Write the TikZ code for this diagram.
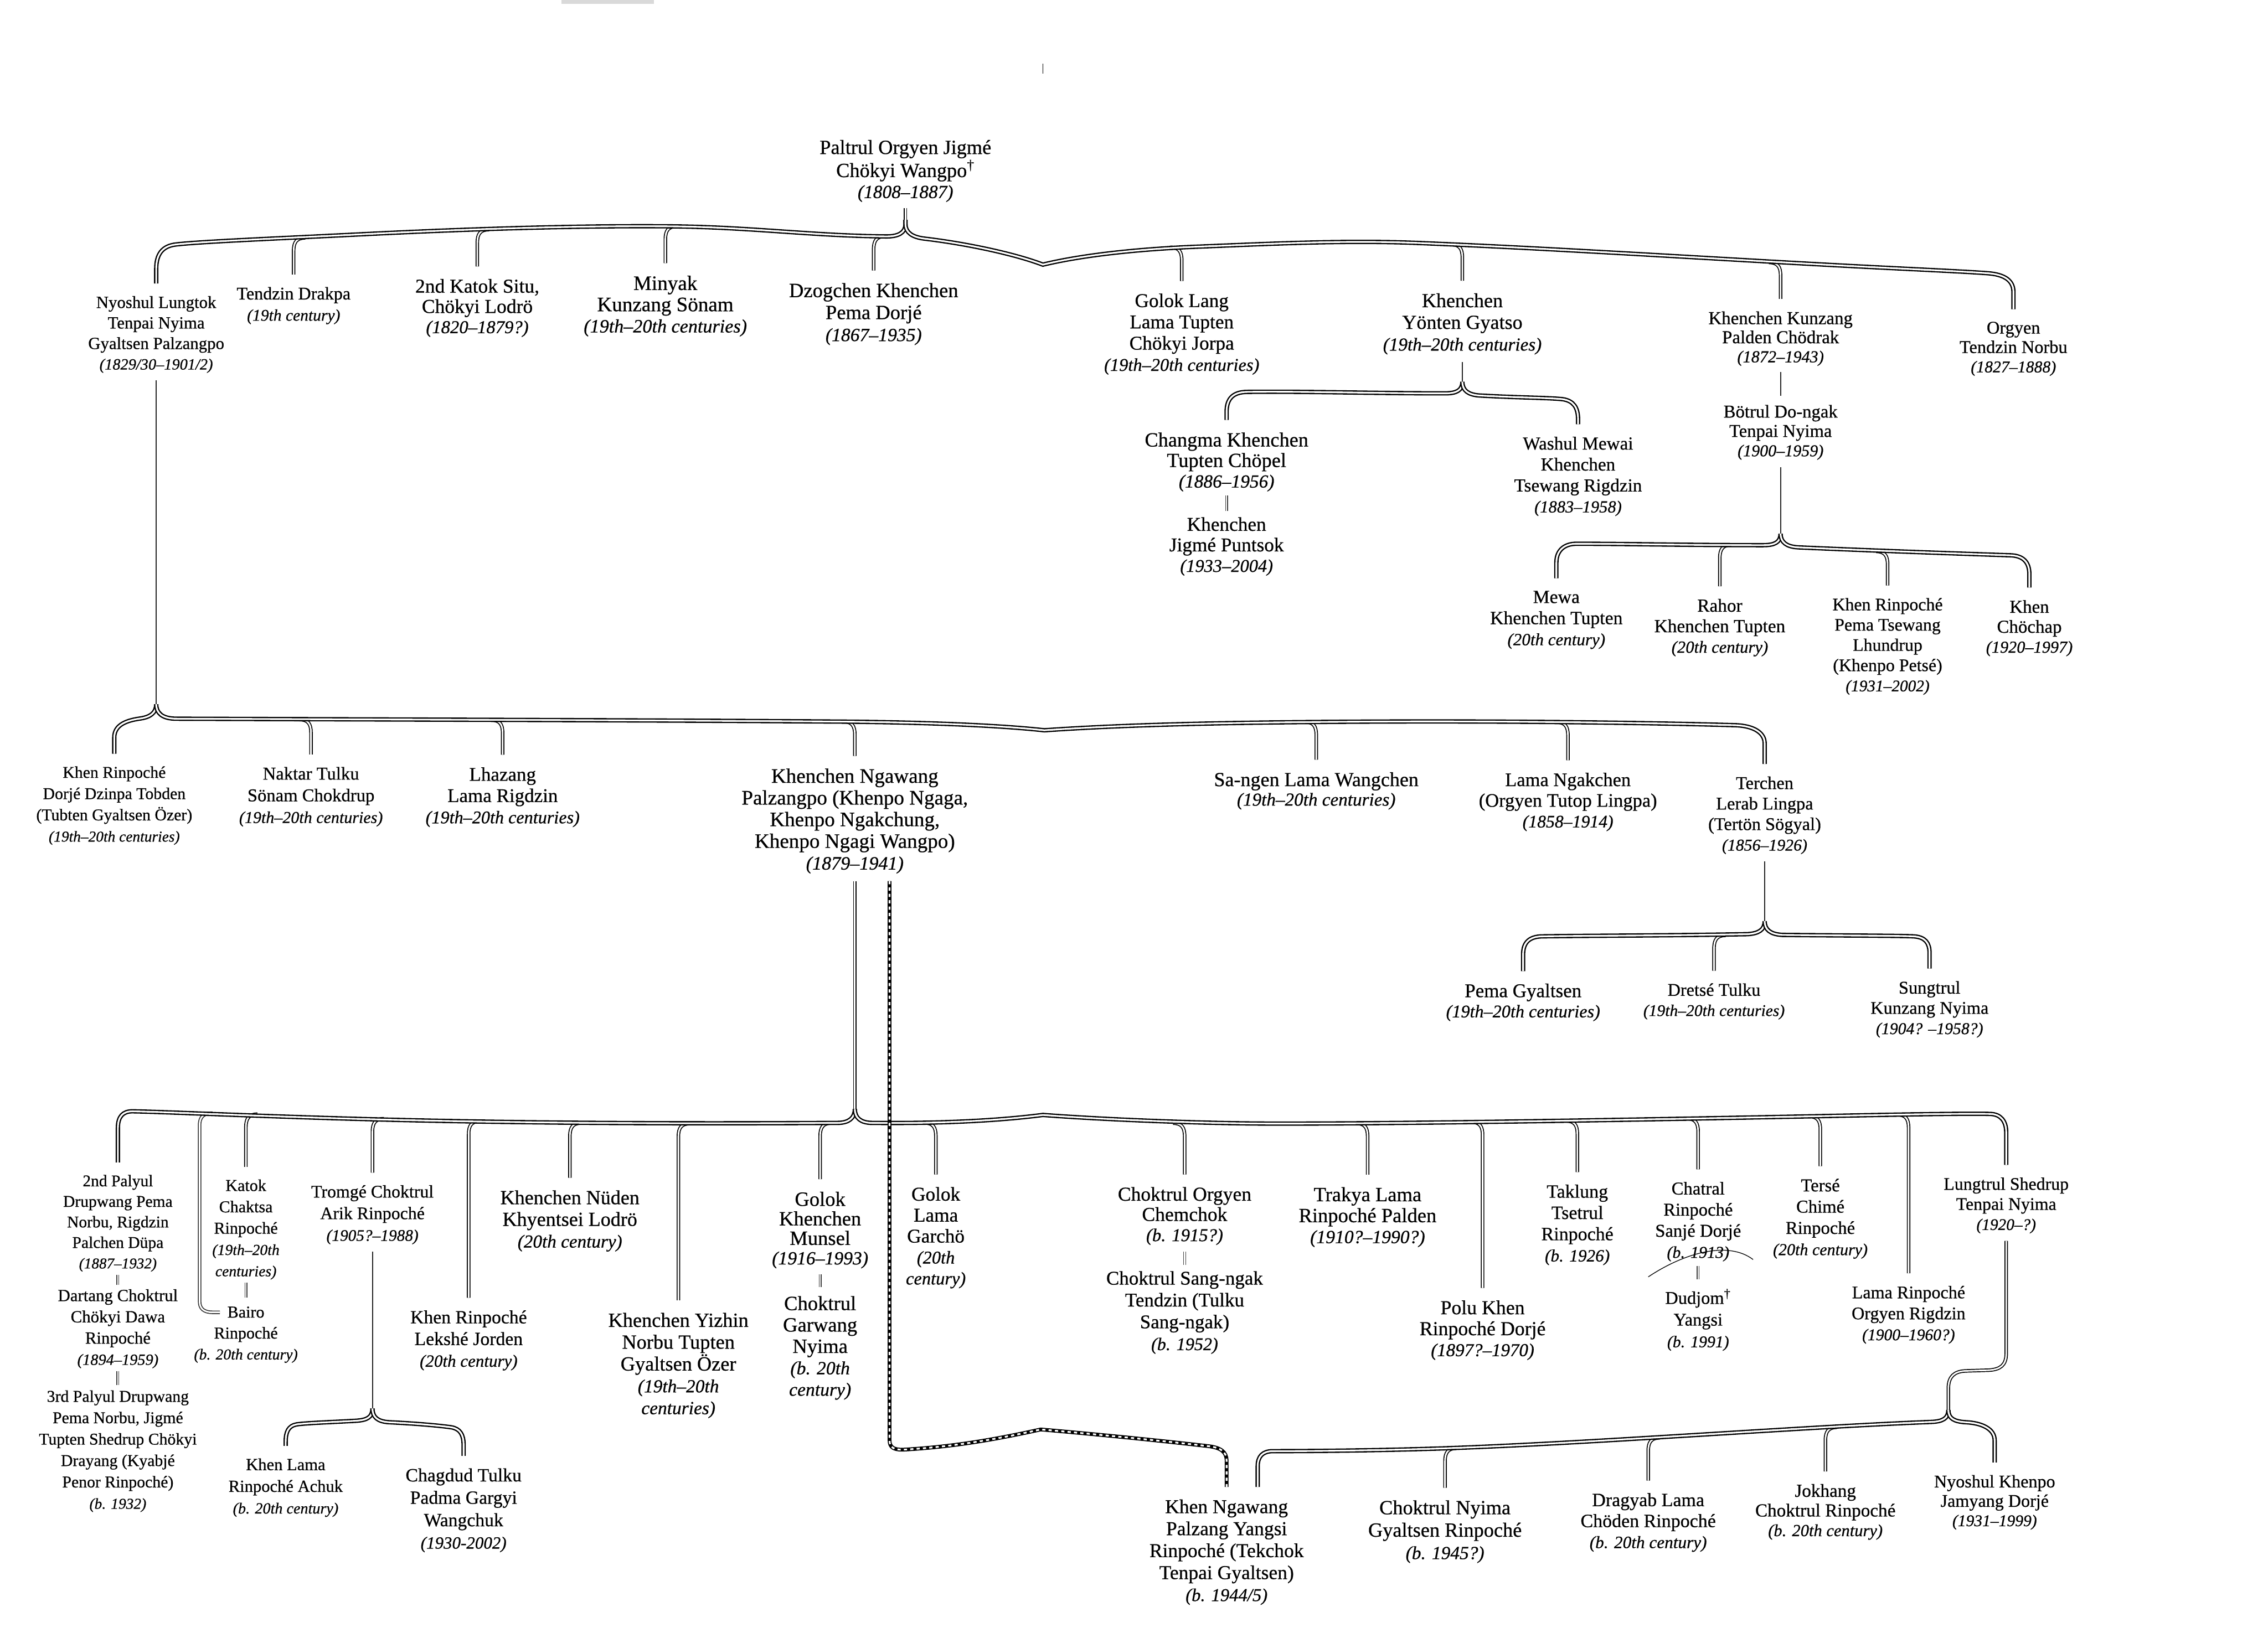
\documentclass[tikz,border=0pt]{standalone}
\usepackage{fontspec}
\setmainfont{Liberation Serif}[FakeBold=0.6]
\makeatletter
\newcommand\dt[1]{{\fontsize{\fpeval{0.92*\f@size}}{\f@baselineskip}\selectfont\itshape #1}}
\makeatother
\tikzset{
 stm/.style={draw, line width=0.65pt, double=white, double distance=1.1pt},
 barr/.style={draw, line width=0.9pt, double=white, double distance=1.2pt},
 sgl/.style={draw=black!85, line width=0.7pt},
 pip/.style={draw=black!75, line width=0.55pt, double=white, double distance=0.8pt},
 dashb/.style={draw, line width=2.6pt, postaction={draw=white, line width=1.2pt, dash pattern=on 2.2pt off 2.2pt}},
 pn/.style 2 args={align=center, inner sep=0pt, anchor=north, font=\fontsize{#1}{#2}\selectfont},
}
\newcommand\nd[6]{\node[pn={#4}{#5}] (#1) at (#2,{#3-0.46*#4}) {#6};}
\newcommand\stL[3]{\draw[stm] ({#1+8},#2) .. controls ({#1+2},#2) and (#1,{#2+3}) .. (#1,{#2+9}) -- ([yshift=8.5pt]#3.north);}
\newcommand\stR[3]{\draw[stm] ({#1-8},#2) .. controls ({#1-2},#2) and (#1,{#2+3}) .. (#1,{#2+9}) -- ([yshift=8.5pt]#3.north);}
\newcommand\lnk[4]{\draw[pip] ([yshift=#3pt]#1.south) -- ([yshift=#4pt]#2.north);}
\begin{document}
\begin{tikzpicture}[x=1pt,y=-1pt]
\fill[white] (0,0) rectangle (1568,1136);
\useasboundingbox (0,0) rectangle (1568,1136);
\fill[black!15] (388,0) rectangle (452,2.5);
\draw[line width=0.6pt] (721,44) -- (721,51);
% ---------- nodes ----------
\nd{root}{626}{103}{13.9}{14.5}{Paltrul Orgyen Jigmé\\Chökyi Wangpo\textsuperscript{†}\\\dt{(1808–1887)}}
\nd{nyoshul}{108}{210}{11.8}{14.2}{Nyoshul Lungtok\\Tenpai Nyima\\Gyaltsen Palzangpo\\\dt{(1829/30–1901/2)}}
\nd{tendzin}{203}{204}{12.3}{14.7}{Tendzin Drakpa\\\dt{(19th century)}}
\nd{katok}{330}{199}{13.6}{14}{2nd Katok Situ,\\Chökyi Lodrö\\\dt{(1820–1879?)}}
\nd{minyak}{460}{197}{14.2}{14.7}{Minyak\\Kunzang Sönam\\\dt{(19th–20th centuries)}}
\nd{dzogchen}{604}{202}{14}{15.2}{Dzogchen Khenchen\\Pema Dorjé\\\dt{(1867–1935)}}
\nd{golok}{817}{209}{13.5}{14.7}{Golok Lang\\Lama Tupten\\Chökyi Jorpa\\\dt{(19th–20th centuries)}}
\nd{yonten}{1011}{209}{13.8}{15}{Khenchen\\Yönten Gyatso\\\dt{(19th–20th centuries)}}
\nd{kunzang}{1231}{221}{12.6}{13.2}{Khenchen Kunzang\\Palden Chödrak\\\dt{(1872–1943)}}
\nd{orgyen}{1392}{228}{12.4}{13.4}{Orgyen\\Tendzin Norbu\\\dt{(1827–1888)}}
\nd{changma}{848}{305.3}{13.9}{14.2}{Changma Khenchen\\Tupten Chöpel\\\dt{(1886–1956)}}
\nd{jigme}{848}{363.7}{13.5}{14.2}{Khenchen\\Jigmé Puntsok\\\dt{(1933–2004)}}
\nd{washul}{1091}{307.7}{12.7}{14.5}{Washul Mewai\\Khenchen\\Tsewang Rigdzin\\\dt{(1883–1958)}}
\nd{botrul}{1231}{285.6}{12.5}{13.4}{Bötrul Do-ngak\\Tenpai Nyima\\\dt{(1900–1959)}}
\nd{mewa}{1076}{414.3}{12.9}{14.6}{Mewa\\Khenchen Tupten\\\dt{(20th century)}}
\nd{rahor}{1189}{419.8}{12.75}{14.2}{Rahor\\Khenchen Tupten\\\dt{(20th century)}}
\nd{khenpema}{1305}{419}{12.2}{14}{Khen Rinpoché\\Pema Tsewang\\Lhundrup\\(Khenpo Petsé)\\\dt{(1931–2002)}}
\nd{chochap}{1403}{420.6}{12.6}{13.8}{Khen\\Chöchap\\\dt{(1920–1997)}}
\nd{khenrd}{79}{535}{11.4}{14.7}{Khen Rinpoché\\Dorjé Dzinpa Tobden\\(Tubten Gyaltsen Özer)\\\dt{(19th–20th centuries)}}
\nd{naktar}{215}{536}{12.5}{15}{Naktar Tulku\\Sönam Chokdrup\\\dt{(19th–20th centuries)}}
\nd{lhazang}{347.5}{536.6}{13.4}{14.7}{Lhazang\\Lama Rigdzin\\\dt{(19th–20th centuries)}}
\nd{ngawang}{591}{537.8}{14.2}{15}{Khenchen Ngawang\\Palzangpo (Khenpo Ngaga,\\Khenpo Ngakchung,\\Khenpo Ngagi Wangpo)\\\dt{(1879–1941)}}
\nd{sangen}{910}{540.2}{13.8}{13.5}{Sa-ngen Lama Wangchen\\\dt{(19th–20th centuries)}}
\nd{ngakchen}{1084}{540.3}{13.2}{14.3}{Lama Ngakchen\\(Orgyen Tutop Lingpa)\\\dt{(1858–1914)}}
\nd{terchen}{1220}{542.5}{12.4}{14.2}{Terchen\\Lerab Lingpa\\(Tertön Sögyal)\\\dt{(1856–1926)}}
\nd{pemag}{1053}{686.2}{13.4}{14}{Pema Gyaltsen\\\dt{(19th–20th centuries)}}
\nd{dretse}{1185}{685.5}{12.3}{14}{Dretsé Tulku\\\dt{(19th–20th centuries)}}
\nd{sungtrul}{1334}{684}{12.4}{14}{Sungtrul\\Kunzang Nyima\\\dt{(1904? –1958?)}}
\nd{palyul}{81.5}{817.5}{11.3}{14.2}{2nd Palyul\\Drupwang Pema\\Norbu, Rigdzin\\Palchen Düpa\\\dt{(1887–1932)}}
\nd{dartang}{81.5}{896.8}{11.8}{14.7}{Dartang Choktrul\\Chökyi Dawa\\Rinpoché\\\dt{(1894–1959)}}
\nd{palyulc}{81.5}{966.5}{11.4}{14.8}{3rd Palyul Drupwang\\Pema Norbu, Jigmé\\Tupten Shedrup Chökyi\\Drayang (Kyabjé\\Penor Rinpoché)\\\dt{(b. 1932)}}
\nd{chaktsa}{170}{820.7}{11.5}{14.75}{Katok\\Chaktsa\\Rinpoché\\\dt{(19th–20th}\\\dt{centuries)}}
\nd{bairo}{170}{908.6}{11.5}{14.5}{Bairo\\Rinpoché\\\dt{(b. 20th century)}}
\nd{tromge}{257.5}{825}{12.2}{15}{Tromgé Choktrul\\Arik Rinpoché\\\dt{(1905?–1988)}}
\nd{khenlama}{197.5}{1013.7}{11.7}{15}{Khen Lama\\Rinpoché Achuk\\\dt{(b. 20th century)}}
\nd{chagdud}{320.5}{1021.2}{12.9}{15.5}{Chagdud Tulku\\Padma Gargyi\\Wangchuk\\\dt{(1930-2002)}}
\nd{lekshe}{324}{911.9}{12.9}{15}{Khen Rinpoché\\Lekshé Jorden\\\dt{(20th century)}}
\nd{nuden}{394}{829.3}{13.8}{15}{Khenchen Nüden\\Khyentsei Lodrö\\\dt{(20th century)}}
\nd{yizhin}{469}{914.1}{13.9}{15.1}{Khenchen Yizhin\\Norbu Tupten\\Gyaltsen Özer\\\dt{(19th–20th}\\\dt{centuries)}}
\nd{munsel}{567}{830.4}{14}{13.5}{Golok\\Khenchen\\Munsel\\\dt{(1916–1993)}}
\nd{garwang}{567}{902.5}{14}{14.8}{Choktrul\\Garwang\\Nyima\\\dt{(b. 20th}\\\dt{century)}}
\nd{garcho}{647}{826.9}{13.5}{14.5}{Golok\\Lama\\Garchö\\\dt{(20th}\\\dt{century)}}
\nd{chorgyen}{819}{826.9}{13.6}{14}{Choktrul Orgyen\\Chemchok\\\dt{(b. 1915?)}}
\nd{sangngak}{819}{885}{13.4}{15.1}{Choktrul Sang-ngak\\Tendzin (Tulku\\Sang-ngak)\\\dt{(b. 1952)}}
\nd{trakya}{945.5}{827.2}{14}{14.5}{Trakya Lama\\Rinpoché Palden\\\dt{(1910?–1990?)}}
\nd{polu}{1025}{905.4}{13.7}{14.5}{Polu Khen\\Rinpoché Dorjé\\\dt{(1897?–1970)}}
\nd{taklung}{1090.5}{825}{13}{14.7}{Taklung\\Tsetrul\\Rinpoché\\\dt{(b. 1926)}}
\nd{chatral}{1174}{822.9}{12.5}{14.6}{Chatral\\Rinpoché\\Sanjé Dorjé\\\dt{(b. 1913)}}
\nd{dudjom}{1174}{896.8}{12.4}{15}{Dudjom\textsuperscript{†}\\Yangsi\\\dt{(b. 1991)}}
\nd{terse}{1258.5}{820.7}{12.5}{14.7}{Tersé\\Chimé\\Rinpoché\\\dt{(20th century)}}
\nd{lamarin}{1319.5}{894.7}{12.3}{14.5}{Lama Rinpoché\\Orgyen Rigdzin\\\dt{(1900–1960?)}}
\nd{lungtrul}{1387}{819.7}{12.2}{13.9}{Lungtrul Shedrup\\Tenpai Nyima\\\dt{(1920–?)}}
\nd{yangsi}{848}{1043}{13.6}{15.2}{Khen Ngawang\\Palzang Yangsi\\Rinpoché (Tekchok\\Tenpai Gyaltsen)\\\dt{(b. 1944/5)}}
\nd{chnyima}{999}{1043.7}{13.9}{15.5}{Choktrul Nyima\\Gyaltsen Rinpoché\\\dt{(b. 1945?)}}
\nd{dragyab}{1139.5}{1038.3}{13}{14.5}{Dragyab Lama\\Chöden Rinpoché\\\dt{(b. 20th century)}}
\nd{jokhang}{1262}{1031.9}{12.7}{13.6}{Jokhang\\Choktrul Rinpoché\\\dt{(b. 20th century)}}
\nd{nyoshulk}{1379}{1025.5}{12.3}{13.4}{Nyoshul Khenpo\\Jamyang Dorjé\\\dt{(1931–1999)}}
% ---------- child stems ----------
\stL{203}{164.5}{tendzin}
\stL{330}{158.8}{katok}
\stL{460}{156.5}{minyak}
\stL{604}{163.4}{dzogchen}
\stR{817}{171}{golok}
\stR{1011}{169}{yonten}
\stR{1231}{181.5}{kunzang}
\stL{1189}{376.8}{rahor}
\stR{1305}{381.3}{khenpema}
\stR{215}{497.6}{naktar}
\stR{347.5}{497.9}{lhazang}
\stR{591}{499}{ngawang}
\stR{910}{499.2}{sangen}
\stR{1084}{499.4}{ngakchen}
\stL{1185}{646.8}{dretse}
\stL{170}{770.5}{chaktsa}
\stL{257.5}{773.6}{tromge}
\stL{324}{775.3}{lekshe}
\stL{394}{776.6}{nuden}
\stL{469}{777}{yizhin}
\stL{567}{776.6}{munsel}
\stR{647}{776.5}{garcho}
\stR{819}{776.7}{chorgyen}
\stR{945.5}{776.8}{trakya}
\stR{1025}{775.9}{polu}
\stR{1090.5}{775.1}{taklung}
\stR{1174}{773.5}{chatral}
\stR{1258.5}{772}{terse}
\stR{1319.5}{770.8}{lamarin}
\stL{999}{1001.5}{chnyima}
\stL{1139.5}{994.3}{dragyab}
\stL{1262}{987}{jokhang}
\coordinate (bairoIn) at (152,907.5);
\draw[stm, draw=black!80] (147,769.8) .. controls (141,769.8) and (138,772) .. (138,778) -- (138,900) .. controls (138,905) and (141,907.5) .. (147,907.5) -- (bairoIn);
% ---------- parent stems ----------
\draw[stm] ([yshift=-4pt]root.south) -- (626,156);
\draw[sgl] ([yshift=-5pt]yonten.south) -- (1011,266);
\draw[sgl] ([yshift=-4pt]kunzang.south) -- ([yshift=6pt]botrul.north);
\draw[sgl] ([yshift=-5pt]botrul.south) -- (1231,372);
\draw[sgl] ([yshift=-5pt]nyoshul.south) -- (108,490);
\draw[sgl] ([yshift=-5pt]terchen.south) -- (1220,640);
\draw[stm] ([yshift=-5pt]ngawang.south) -- (591,770);
\draw[sgl] ([yshift=-5pt]tromge.south) -- (257.5,977);
\draw[stm] ([yshift=-5pt]lungtrul.south) -- (1387,936) .. controls (1387,944) and (1383,947) .. (1375,947.5) -- (1359,948) .. controls (1351,948.3) and (1347,952) .. (1347,960) -- (1347,978);
% ---------- bars ----------
\draw[barr] (626,152) -- (626,155) .. controls (626,161) and (621,163.5) .. (613,163.5) .. controls (560,163) and (520,157) .. (462,156.5) .. controls (404,156) and (330,158) .. (250,162) .. controls (190,165) and (140,167) .. (122,169) .. controls (112,170) and (108,176) .. (108,186) -- ([yshift=8.5pt]nyoshul.north);
\draw[barr] (626,152) -- (626,155) .. controls (626,161) and (631,164) .. (639,165) .. controls (665,168) and (700,175) .. (721,183) .. controls (750,176) and (790,172) .. (830,170.5) .. controls (880,168.5) and (930,166) .. (980,168) .. controls (1080,172) and (1200,180) .. (1300,185) .. controls (1340,187) and (1362,188) .. (1375,189) .. controls (1386,190) and (1392,194) .. (1392,202) -- ([yshift=8.5pt]orgyen.north);
\draw[barr] (1011,264) .. controls (1011,270) and (1007,272) .. (999,272) .. controls (950,272) and (900,270.5) .. (862,271) .. controls (852,271.2) and (848,276) .. (848,285) -- ([yshift=8.5pt]changma.north);
\draw[barr] (1011,264) .. controls (1011,270) and (1015,273) .. (1023,273.5) .. controls (1050,275) and (1070,275) .. (1080,276) .. controls (1088,277) and (1091,282) .. (1091,290) -- ([yshift=8.5pt]washul.north);
\draw[barr] (1231,369) .. controls (1231,375) and (1227,377) .. (1219,377) .. controls (1170,377) and (1120,376) .. (1090,376) .. controls (1081,376) and (1076,381) .. (1076,389) -- ([yshift=8.5pt]mewa.north);
\draw[barr] (1231,369) .. controls (1231,375) and (1235,378) .. (1243,378.5) .. controls (1300,381) and (1360,383) .. (1390,384) .. controls (1399,384.3) and (1403,389) .. (1403,397) -- ([yshift=8.5pt]chochap.north);
\draw[barr] (108,487) .. controls (108,493) and (104,496) .. (96,497) .. controls (86,498.5) and (79,502) .. (79,510) -- ([yshift=8.5pt]khenrd.north);
\draw[barr] (108,487) .. controls (108,493) and (112,497) .. (122,497) .. controls (250,497.5) and (450,498) .. (580,499) .. controls (640,499.5) and (690,501.5) .. (722,505) .. controls (780,501) and (850,499.5) .. (950,499) .. controls (1050,498.5) and (1150,500) .. (1200,501.5) .. controls (1213,502) and (1220,507) .. (1220,514) -- ([yshift=8.5pt]terchen.north);
\draw[barr] (1220,637) .. controls (1220,643) and (1216,645.5) .. (1208,646) .. controls (1150,647) and (1100,647) .. (1066,647.5) .. controls (1057,647.7) and (1053,652) .. (1053,660) -- ([yshift=8.5pt]pemag.north);
\draw[barr] (1220,637) .. controls (1220,643) and (1224,646) .. (1232,646.5) .. controls (1280,647) and (1310,647) .. (1323,647.5) .. controls (1331,648) and (1334,652) .. (1334,659) -- ([yshift=8.5pt]sungtrul.north);
\draw[barr] (591,767) .. controls (591,773) and (587,776.5) .. (579,776.5) .. controls (500,777) and (400,777) .. (300,775) .. controls (200,773) and (120,769) .. (92,768.5) .. controls (85,768.3) and (81.5,772) .. (81.5,780) -- ([yshift=8.5pt]palyul.north);
\draw[barr] (591,767) .. controls (591,773) and (595,776.5) .. (603,776.5) .. controls (650,777) and (690,775) .. (721,771) .. controls (760,774) and (830,777) .. (884,777) .. controls (1000,777) and (1200,773) .. (1300,771) .. controls (1340,770.3) and (1365,770) .. (1376,770.3) .. controls (1383,770.5) and (1387,775) .. (1387,783) -- ([yshift=8.5pt]lungtrul.north);
\draw[barr] (257.5,974) .. controls (257.5,980) and (254,982) .. (246,982.5) .. controls (228,983.5) and (212,984) .. (205,985) .. controls (199.5,986) and (197.5,990) .. (197.5,997) -- ([yshift=8.5pt]khenlama.north);
\draw[barr] (257.5,974) .. controls (257.5,980) and (261,983) .. (269,983.5) .. controls (290,984.5) and (305,986) .. (312,987) .. controls (318,988) and (320.5,992) .. (320.5,999) -- ([yshift=8.5pt]chagdud.north);
\coordinate (yangsiTop) at ([yshift=8.5pt]yangsi.north);
\coordinate (xR) at (869.5,0);
\draw[barr] (1347,975) .. controls (1347,981) and (1343,983) .. (1335,983.3) .. controls (1250,986.5) and (1100,998) .. (1000,1001.5) .. controls (950,1003.2) and (900,1003.5) .. (880,1003.5) .. controls (873,1003.5) and (869.5,1007) .. (869.5,1014) -- (yangsiTop -| xR);
\draw[barr] (1347,975) .. controls (1347,981) and (1351,983) .. (1359,983.5) .. controls (1370,984) and (1379,988) .. (1379,996) -- ([yshift=8.5pt]nyoshulk.north);
% ---------- dashed lineage ----------
\coordinate (ngS) at ([yshift=-5pt]ngawang.south);
\coordinate (xD) at (615,0);
\draw[dashb] (ngS -| xD) -- (615,996) .. controls (615,1001) and (618,1002.5) .. (624,1002.5) .. controls (660,1000.5) and (690,995) .. (719.5,988.5) .. controls (760,992) and (800,996) .. (835,1000) .. controls (844,1001) and (848,1004) .. (848,1010) -- (yangsiTop);
% ---------- short links ----------
\lnk{changma}{jigme}{-2.5}{4}
\lnk{palyul}{dartang}{-2}{3}
\lnk{dartang}{palyulc}{-1.7}{3.3}
\lnk{chaktsa}{bairo}{-2}{6}
\lnk{munsel}{garwang}{-4}{6}
\lnk{chorgyen}{sangngak}{-4.5}{4.2}
\lnk{chatral}{dudjom}{-3}{6.5}
\draw[line width=0.5pt] (1139.5,883) .. controls (1165,866) and (1195,858) .. (1212,871);
\end{tikzpicture}
\end{document}
